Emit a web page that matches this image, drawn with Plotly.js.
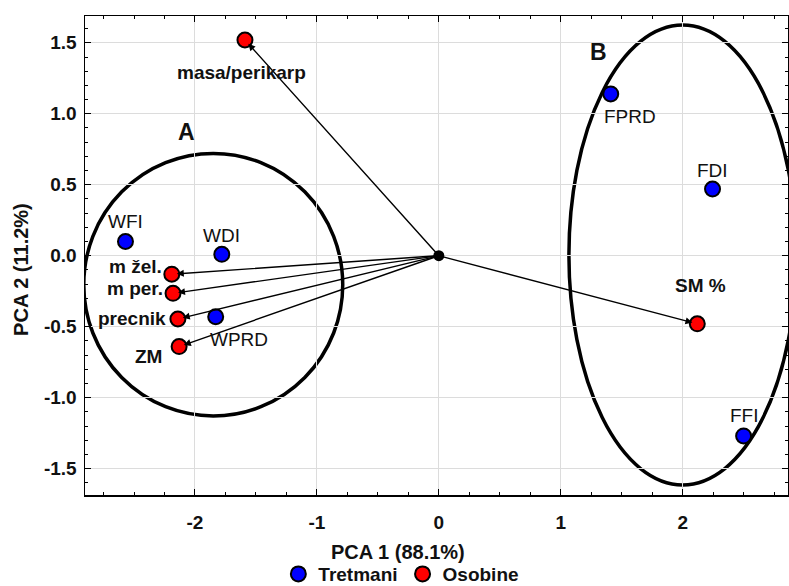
<!DOCTYPE html>
<html>
<head>
<meta charset="utf-8">
<script src="https://cdn.plot.ly/plotly-3.0.1.min.js"></script>
<style>html,body{margin:0;padding:0;background:#fff;}#chart{width:789px;height:586px;}</style>
</head>
<body>
<div id="chart"></div>
<script>
// ---- data ----
const tretLabels = ['WFI', 'WDI', 'WPRD', 'FPRD', 'FDI', 'FFI'];
const tretX = [-2.57, -1.78, -1.83, 1.41, 2.245, 2.50];
const tretY = [0.10, 0.01, -0.43, 1.14, 0.47, -1.27];

const osobLabels = ['masa/perikarp', 'm žel.', 'm per.', 'precnik', 'ZM', 'SM %'];
const osobX = [-1.59, -2.19, -2.18, -2.14, -2.13, 2.12];
const osobY = [1.52, -0.13, -0.265, -0.446, -0.64, -0.48];

const groupNames = ['A', 'B'];
const groupCx = [-1.85, 2.0];
const groupCy = [-0.204, 0.005];
const groupRx = [1.062, 0.933];
const groupRy = [0.925, 1.62];

const seriesNames = ['Tretmani', 'Osobine'];
const xTitle = 'PCA 1 (88.1%)';
const yTitle = 'PCA 2 (11.2%)';

const xTickVals = [-2, -1, 0, 1, 2];
const xTickText = ['-2', '-1', '0', '1', '2'];
const yTickVals = [-1.5, -1.0, -0.5, 0.0, 0.5, 1.0, 1.5];
const yTickText = ['-1.5', '-1.0', '-0.5', '0.0', '0.5', '1.0', '1.5'];

// ---- styles / label offsets (pixels) ----
const FONT = 'Arial, "Liberation Sans", sans-serif';
const FS = 19;
const FT = 20;
const tretShift = [[0, 20], [0, 19], [23, -23], [19, -23], [0, 19], [1, 20]];
const osobShift = [[-3, -33], [-36, 8], [-38, 5], [-46, 1], [-31, -10], [3, 38]];
const groupLabelPos = [[-2.067, 0.874], [1.307, 1.438]];

const traces = [
  {
    x: tretX, y: tretY, mode: 'markers', type: 'scatter', name: seriesNames[0],
    marker: {color: '#0000ff', size: 15, line: {color: '#000', width: 2}}
  },
  {
    x: osobX, y: osobY, mode: 'markers', type: 'scatter', name: seriesNames[1],
    marker: {color: '#ff0000', size: 15, line: {color: '#000', width: 2}}
  },
  {
    x: [0], y: [0], mode: 'markers', type: 'scatter', showlegend: false,
    marker: {color: '#000', size: 11}
  }
];

const annotations = [];
// arrows from origin to each variable
osobX.forEach((x, i) => {
  annotations.push({
    x: x, y: osobY[i], xref: 'x', yref: 'y',
    ax: 0, ay: 0, axref: 'x', ayref: 'y',
    showarrow: true, arrowhead: 2, arrowsize: 1, arrowwidth: 1.4,
    arrowcolor: '#000', standoff: 5, text: ''
  });
});
osobLabels.forEach((t, i) => {
  annotations.push({
    x: osobX[i], y: osobY[i], xref: 'x', yref: 'y', text: t, showarrow: false,
    xshift: osobShift[i][0], yshift: osobShift[i][1],
    font: {family: FONT, size: FS, color: '#111', weight: 'bold'}
  });
});
tretLabels.forEach((t, i) => {
  annotations.push({
    x: tretX[i], y: tretY[i], xref: 'x', yref: 'y', text: t, showarrow: false,
    xshift: tretShift[i][0], yshift: tretShift[i][1],
    font: {family: FONT, size: FS, color: '#111'}
  });
});
groupNames.forEach((g, i) => {
  annotations.push({
    x: groupLabelPos[i][0], y: groupLabelPos[i][1], xref: 'x', yref: 'y', text: g,
    showarrow: false, font: {family: FONT, size: 23, color: '#111', weight: 'bold'}
  });
});
// axis titles
annotations.push({
  x: 0.445, y: -0.119, xref: 'paper', yref: 'paper', text: xTitle, showarrow: false,
  xanchor: 'center', yanchor: 'middle',
  font: {family: FONT, size: FT, color: '#111', weight: 'bold'}
});
annotations.push({
  x: -0.091, y: 0.47, xref: 'paper', yref: 'paper', text: yTitle, showarrow: false,
  xanchor: 'center', yanchor: 'middle', textangle: -90,
  font: {family: FONT, size: FT, color: '#111', weight: 'bold'}
});

const shapes = groupNames.map((g, i) => ({
  type: 'circle', xref: 'x', yref: 'y', layer: 'below',
  x0: groupCx[i] - groupRx[i], x1: groupCx[i] + groupRx[i],
  y0: groupCy[i] - groupRy[i], y1: groupCy[i] + groupRy[i],
  line: {color: '#000', width: 3.5}, fillcolor: 'rgba(0,0,0,0)'
}));

const axisCommon = {
  showline: true, linecolor: '#000', linewidth: 1.5, mirror: 'ticks',
  ticks: 'inside', ticklen: 6, tickcolor: '#000', tickwidth: 1,
  showgrid: true, gridcolor: '#dcdcdc', gridwidth: 1, zeroline: false,
  tickmode: 'array',
  tickfont: {family: FONT, size: FS, color: '#111', weight: 'bold'}
};

const layout = {
  width: 789, height: 586,
  margin: {l: 85, r: 1, t: 16, b: 91, autoexpand: false},
  paper_bgcolor: '#fff', plot_bgcolor: '#fff',
  showlegend: true,
  legend: {
    orientation: 'h', x: 0.45, xanchor: 'center', xref: 'paper',
    y: -0.165, yanchor: 'middle', yref: 'paper',
    font: {family: FONT, size: 19, color: '#111', weight: 'bold'},
    itemclick: false, tracegroupgap: 0
  },
  xaxis: Object.assign({}, axisCommon, {
    range: [-2.902, 2.864], tickvals: xTickVals, ticktext: xTickText, ticklabelstandoff: 10,
    minor: {tickmode: 'linear', tick0: 0, dtick: 0.25, ticks: 'inside', ticklen: 3, tickcolor: '#000', showgrid: false}
  }),
  yaxis: Object.assign({}, axisCommon, {
    range: [-1.686, 1.689], tickvals: yTickVals, ticktext: yTickText, ticklabelstandoff: 3,
    minor: {tickmode: 'linear', tick0: 0, dtick: 0.1, ticks: 'inside', ticklen: 3, tickcolor: '#000', showgrid: false}
  }),
  shapes: shapes,
  annotations: annotations
};

Plotly.newPlot('chart', traces, layout, {displayModeBar: false, staticPlot: true});
</script>
</body>
</html>
